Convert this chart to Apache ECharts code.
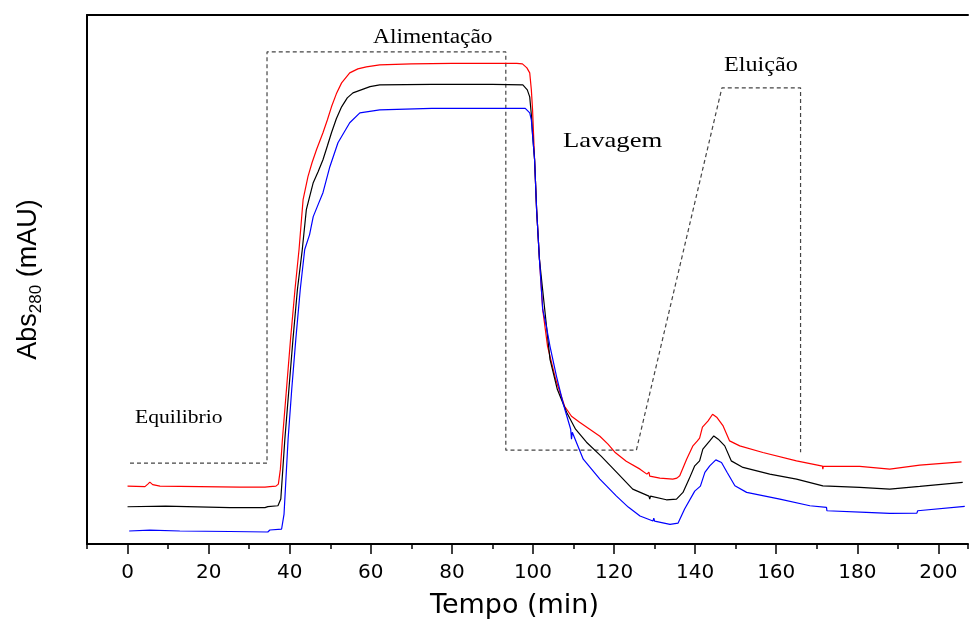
<!DOCTYPE html>
<html>
<head>
<meta charset="utf-8">
<script src="https://cdn.jsdelivr.net/npm/echarts@6/dist/echarts.min.js"></script>
<style>html,body{margin:0;padding:0;background:#fff}#c{width:970px;height:624px}</style>
</head>
<body>
<div id="c"></div>
<script>
// Chromatogram traces: [time (min), absorbance (arbitrary units)]
const redCurve = [[0,58],[4.3,57.5],[5,60],[5.5,62],[6.2,59.5],[8,58],[17.8,57.5],[27.7,57],[33.9,57],[35.1,57.5],[36.6,58],[37.2,60],[37.7,75],[38.2,105],[39.2,155],[40.2,205],[41.3,255],[42.3,295],[43.3,345],[44.5,368],[45.5,382],[46.6,395],[48.2,412],[49.3,425],[50.3,438],[51.5,451],[52.8,462],[54.8,472],[56.8,476],[58.9,478],[62.2,480],[70,481],[80,481.5],[90,481.5],[96,481.5],[97.4,481],[98.5,477],[99.2,472],[99.6,455],[99.9,435],[100.4,385],[100.9,335],[101.6,285],[102.4,235],[103.6,198],[105.6,165],[107.8,138],[109.5,128],[111.5,122],[114,115],[116.5,108],[118.5,100],[120.2,92],[123,83],[126.4,75],[128.1,70],[128.6,72],[128.8,68],[131.3,66],[134.5,65],[135.5,66],[136.2,68.3],[137.9,85],[139.4,98],[140.5,103],[141.1,106],[141.8,117],[143.2,123.3],[144.3,130],[145.4,126.7],[146.9,118.3],[148.5,103.3],[151,98.3],[156.7,91.7],[165,83.3],[171.4,78],[171.5,75],[171.6,77.7],[180.6,77.7],[188,75],[195.4,79],[205.7,82.3]];
const blackCurve = [[0,37.3],[9.4,38],[25.2,36.5],[33.9,36.5],[34.6,37.5],[37.1,38.3],[37.8,45],[38.8,105],[39.8,155],[40.8,205],[41.9,255],[43.1,295],[44.1,335],[45.8,362],[47,373],[48.2,385],[49.3,399],[50.3,412],[51.5,426],[52.8,438],[54.2,447],[55.6,452],[59.8,458.3],[62.2,460],[75,460.5],[90,460.5],[97.5,460],[98.6,455],[99.2,448],[99.6,430],[99.9,410],[100.4,385],[100.9,335],[101.6,285],[102.9,235],[104.2,185],[106,155],[108.3,132],[110.5,115],[113.2,102],[116.8,88],[120.6,72],[124.6,55],[128.6,48],[128.8,45],[129,48],[132.9,44.3],[135.4,45],[137,51.7],[138.5,65],[139.9,78.3],[141.1,83.3],[141.9,95],[143.6,103.3],[144.6,108.3],[145.7,105],[147.3,98.3],[148.9,83.3],[151.8,76.7],[158.4,70],[165,65],[171.5,58.3],[171.6,56.7],[180.6,56.7],[188,55],[195.4,57.7],[206,61.7]];
const blueCurve = [[0.4,13],[5.5,14],[12.9,13],[25.2,12.5],[34.6,12],[35.1,14],[38,15],[38.6,30],[39.6,105],[40.5,155],[41.5,205],[42.6,255],[43.7,295],[44.9,310],[45.8,328],[47,340],[48.2,352],[49.9,378],[51.9,402],[54.8,422],[57.3,432],[62.2,435],[75,436.5],[90,436.5],[98.1,436.5],[99.2,432],[99.6,425],[100.1,400],[100.4,385],[100.9,335],[101.6,285],[102.4,235],[103.3,218],[104.2,198],[105.8,168],[107.5,140],[109.3,115],[109.5,105],[109.7,112],[112.4,85],[116.5,65],[120.6,48],[123.5,37],[126.4,28],[129.6,23],[129.8,26],[130,23],[133.8,19.7],[135.8,21],[137.4,35],[139.9,53],[141.3,58],[142.4,71.7],[143.6,78.3],[145.1,84.3],[146.5,81.7],[147.9,71.7],[149.8,58.3],[152.7,51.7],[160.9,45],[168.3,38.3],[172.4,36.7],[172.5,33.3],[182.2,31.7],[188,30.7],[194.7,31],[194.9,33.3],[206.5,37.7]];
// Stage program (dashed outline)
const stageX = [0.6, 34.4, 34.4, 93.3, 93.3, 125.5, 146.6, 166, 166];
const stageY = [81, 81, 493, 493, 94, 94, 457, 457, 92];
const stageLabels = ['Equilibrio', 'Alimentação', 'Lavagem', 'Eluição'];
const xTickStep = 20;
const xMin = -10, xMax = 207.3;

const stageLine = stageX.map((x, i) => [x, stageY[i]]);

const chart = echarts.init(document.getElementById('c'), null, {renderer: 'canvas'});
const serif = '"Liberation Serif", "Times New Roman", serif';
const option = {
  animation: false,
  backgroundColor: '#fff',
  grid: [
    {left: 87, right: 2, top: 15, bottom: 79},
    {left: 127.55, right: 2, top: 15, bottom: 79}
  ],
  xAxis: [
    {gridIndex: 0, type: 'value', min: xMin, max: xMax, interval: 10,
     axisLine: {onZero: false, lineStyle: {color: '#000', width: 2}},
     axisTick: {length: 5, lineStyle: {color: '#000', width: 1.5}},
     axisLabel: {show: false}, splitLine: {show: false},
     name: 'Tempo (min)', nameLocation: 'middle', nameGap: 48,
     nameTextStyle: {fontFamily: 'DejaVu Sans', fontSize: 27, color: '#000', padding: [0, 26, 0, 0]}},
    {gridIndex: 0, type: 'value', position: 'top', min: xMin, max: xMax,
     axisLine: {onZero: false, lineStyle: {color: '#000', width: 2}},
     axisTick: {show: false}, axisLabel: {show: false}, splitLine: {show: false}},
    {gridIndex: 1, type: 'value', min: 0, max: xMax, interval: xTickStep,
     axisLine: {show: false, onZero: false},
     axisTick: {length: 9, lineStyle: {color: '#000', width: 1.5}},
     axisLabel: {fontFamily: 'DejaVu Sans', fontSize: 20, color: '#000', margin: 18, showMaxLabel: false,
       formatter: v => (v % xTickStep === 0 ? String(v) : '')},
     splitLine: {show: false}}
  ],
  yAxis: [
    {gridIndex: 0, type: 'value', min: 0, max: 530,
     axisLine: {show: true, onZero: false, lineStyle: {color: '#000', width: 2}},
     axisTick: {show: false}, axisLabel: {show: false}, splitLine: {show: false},
     name: '{a|Abs}{s|280}{a| (mAU)}', nameLocation: 'middle', nameGap: 42, nameRotate: 90,
     nameTextStyle: {color: '#000', fontFamily: 'Liberation Sans', fontSize: 27,
       rich: {
         a: {fontFamily: 'Liberation Sans', fontSize: 27, color: '#000', lineHeight: 32},
         s: {fontFamily: 'Liberation Sans', fontSize: 17, color: '#000', lineHeight: 32, verticalAlign: 'bottom', padding: [12, 0, 0, 0]}
       }}},
    {gridIndex: 1, type: 'value', min: 0, max: 530, show: false}
  ],
  series: [
    {type: 'line', name: 'stages', data: stageLine, symbol: 'none', silent: true,
     lineStyle: {color: '#444', width: 1.2, type: [4, 3]}, z: 1},
    {type: 'line', name: 'red', data: redCurve, symbol: 'none', lineStyle: {color: '#ff0000', width: 1.2}, z: 3},
    {type: 'line', name: 'black', data: blackCurve, symbol: 'none', lineStyle: {color: '#000000', width: 1.2}, z: 3},
    {type: 'line', name: 'blue', data: blueCurve, symbol: 'none', lineStyle: {color: '#0000ff', width: 1.2}, z: 3}
  ],
  graphic: [
    {type: 'text', x: 135, y: 418, scaleX: 1.2, style: {text: stageLabels[0], font: '18px ' + serif, fill: '#000', align: 'left', verticalAlign: 'middle'}},
    {type: 'text', x: 373, y: 37.5, scaleX: 1.17, style: {text: stageLabels[1], font: '20px ' + serif, fill: '#000', align: 'left', verticalAlign: 'middle'}},
    {type: 'text', x: 563, y: 141, scaleX: 1.27, style: {text: stageLabels[2], font: '21px ' + serif, fill: '#000', align: 'left', verticalAlign: 'middle'}},
    {type: 'text', x: 724, y: 66, scaleX: 1.21, style: {text: stageLabels[3], font: '20px ' + serif, fill: '#000', align: 'left', verticalAlign: 'middle'}}
  ]
};
chart.setOption(option);
</script>
</body>
</html>
